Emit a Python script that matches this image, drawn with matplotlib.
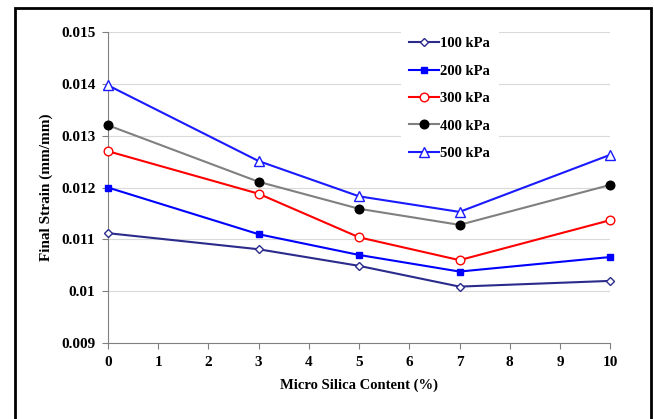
import matplotlib
matplotlib.use("Agg")
import matplotlib.pyplot as plt
from matplotlib.patches import Rectangle

plt.rcParams['font.family'] = ['Liberation Serif', 'DejaVu Serif']
plt.rcParams['font.weight'] = 'bold'

silica = [0, 3, 5, 7, 10]
strain_100 = [0.01112, 0.01081, 0.01049, 0.01009, 0.01020]
strain_200 = [0.01200, 0.01110, 0.01070, 0.01038, 0.01066]
strain_300 = [0.01270, 0.01188, 0.01104, 0.01060, 0.01137]
strain_400 = [0.01320, 0.01211, 0.01159, 0.01128, 0.01205]
strain_500 = [0.01397, 0.01251, 0.01183, 0.01153, 0.01263]
labels = ['100 kPa', '200 kPa', '300 kPa', '400 kPa', '500 kPa']

fig = plt.figure(figsize=(6.54, 4.19), dpi=100)
ax = fig.add_axes([0.165, 0.181, 0.768, 0.743])

# series styles: (values, line colour, marker, marker face, marker edge, size)
series = [
    (strain_100, '#2B2B8C', 'D', 'white', '#2B2B8C', 4.5),
    (strain_200, '#0000FF', 's', '#0000FF', '#0000FF', 5),
    (strain_300, '#FF0000', 'o', 'white', '#FF0000', 6.2),
    (strain_400, '#808080', 'o', 'black', 'black', 6.2),
    (strain_500, '#1A1AFF', '^', 'white', '#1A1AFF', 6.5),
]
for (vals, col, mk, mfc, mec, ms), lab in zip(series, labels):
    ax.plot(silica, vals, color=col, lw=1.5, marker=mk, ms=ms,
            mfc=mfc, mec=mec, mew=1, label=lab, clip_on=False, zorder=3)

ax.set_xlim(0, 10)
ax.set_ylim(0.009, 0.015)
ax.set_xticks(range(0, 11))
ax.set_yticks([0.009, 0.010, 0.011, 0.012, 0.013, 0.014, 0.015])
ax.set_yticklabels(['0.009', '0.01', '0.011', '0.012', '0.013', '0.014', '0.015'])
ax.yaxis.grid(True, color='#D9D9D9', lw=0.8)
ax.set_axisbelow(True)
for s in ['top', 'right']:
    ax.spines[s].set_visible(False)
for s in ['left', 'bottom']:
    ax.spines[s].set_color('#808080')
ax.tick_params(axis='both', direction='out', length=4, color='#808080',
               labelsize=11, pad=5)
for t in ax.get_xticklabels() + ax.get_yticklabels():
    t.set_fontweight('bold')

ax.set_xlabel('Micro Silica Content (%)', fontsize=10.5, fontweight='bold', labelpad=7)
ax.set_ylabel('Final Strain (mm/mm)', fontsize=11, fontweight='bold', labelpad=6)

leg = ax.legend(loc='upper left', bbox_to_anchor=(0.577, 1.02), frameon=True,
                fontsize=10.5, handlelength=2.0, handletextpad=0.1,
                labelspacing=0.97, borderpad=0.6, borderaxespad=0.2)
leg.get_frame().set_edgecolor('none')
leg.get_frame().set_facecolor('white')
leg.get_frame().set_alpha(1)
for t in leg.get_texts():
    t.set_fontweight('bold')

# outer border
fig.patches.append(Rectangle((15 / 654, -0.05), 636 / 654, 1 - 8 / 419 + 0.05,
                             transform=fig.transFigure, fill=False,
                             edgecolor='black', lw=2))

fig.savefig('out.png', dpi=100)
